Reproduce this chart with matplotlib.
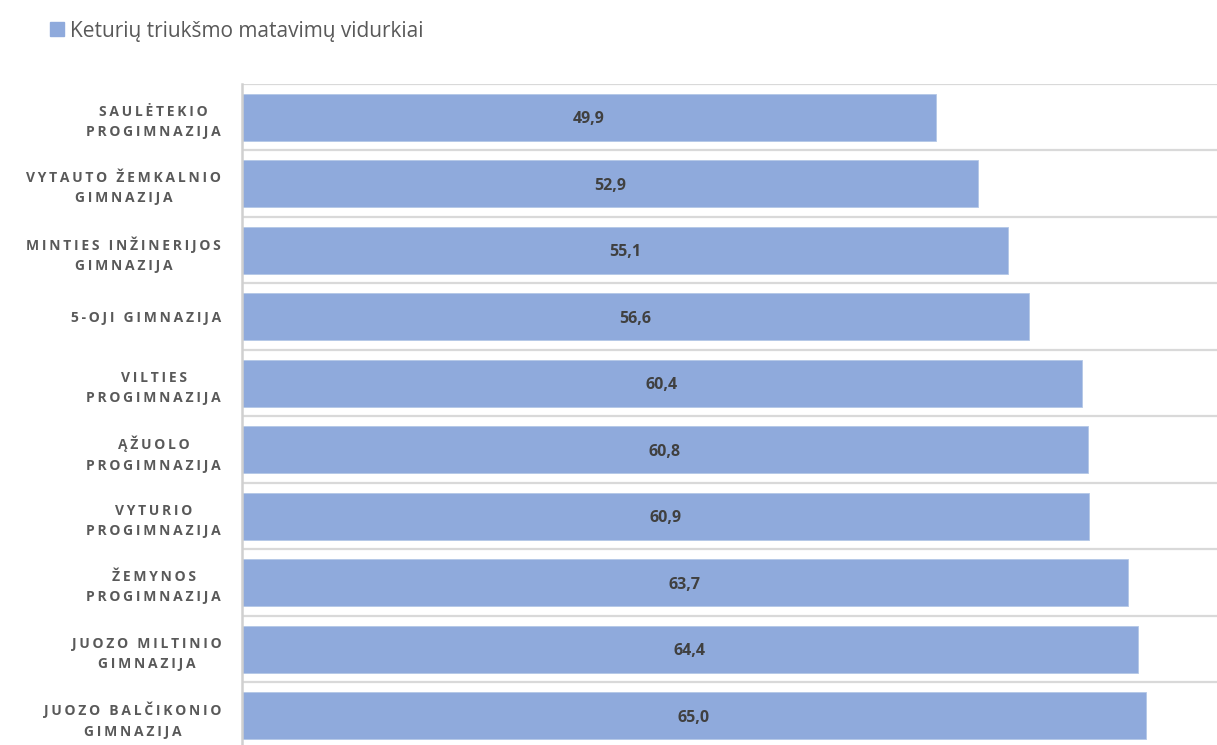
import matplotlib
matplotlib.use("Agg")
import matplotlib.pyplot as plt
import numpy as np

categories = [
    "SAULĖTEKIO\nPROGIMNAZIJA",
    "VYTAUTO ŽEMKALNIO\nGIMNAZIJA",
    "MINTIES INŽINERIJOS\nGIMNAZIJA",
    "5-OJI GIMNAZIJA",
    "VILTIES\nPROGIMNAZIJA",
    "ĄŽUOLO\nPROGIMNAZIJA",
    "VYTURIO\nPROGIMNAZIJA",
    "ŽEMYNOS\nPROGIMNAZIJA",
    "JUOZO MILTINIO\nGIMNAZIJA",
    "JUOZO BALČIKONIO\nGIMNAZIJA",
]
values = [49.9, 52.9, 55.1, 56.6, 60.4, 60.8, 60.9, 63.7, 64.4, 65.0]
series_name = "Keturių triukšmo matavimų vidurkiai"

BAR_COLOR = "#8faadc"
GRID_COLOR = "#d9d9d9"
LABEL_COLOR = "#595959"
VALUE_COLOR = "#404040"

THIN = "\u2009"


def spaced(label):
    lines = []
    for line in label.split("\n"):
        words = [THIN.join(list(w)) for w in line.split(" ")]
        lines.append((THIN + " " + THIN).join(words))
    return "\n".join(lines)


plt.rcParams["font.family"] = ["Open Sans", "DejaVu Sans"]

fig = plt.figure(figsize=(12.17, 7.45), dpi=100)
ax = fig.add_axes([242 / 1217, 1 - 749 / 745, 1 - 242 / 1217, (749 - 84) / 745])

y = np.arange(len(categories))
ax.barh(y, values, height=0.7, color=BAR_COLOR, edgecolor="#b4c7e7", linewidth=0.6, zorder=3)

ax.set_xlim(0, 70.1)
ax.set_ylim(len(categories) - 0.5, -0.5)

ax.set_yticks(y)
ax.set_yticklabels([spaced(c) for c in categories], fontsize=10, fontweight="bold",
                   color=LABEL_COLOR, multialignment="center", linespacing=1.55)
ax.tick_params(axis="y", length=0, pad=15)
ax.set_yticks(np.arange(-0.5, len(categories) + 0.5, 1), minor=True)
ax.tick_params(axis="y", which="minor", length=0)
ax.grid(axis="y", which="minor", color=GRID_COLOR, linewidth=1.6, zorder=0)
ax.set_xticks([])

for s in ["top", "right", "bottom"]:
    ax.spines[s].set_visible(False)
ax.spines["left"].set_color("#d0d0d0")
ax.spines["left"].set_linewidth(1.8)
ax.spines["left"].set_zorder(4)

for yi, v in zip(y, values):
    ax.text(v / 2, yi, f"{v:.1f}".replace(".", ","), ha="center", va="center_baseline",
            fontsize=11.5, fontweight="bold", color=VALUE_COLOR, zorder=5)

handle = plt.Rectangle((0, 0), 1, 1, color=BAR_COLOR)
fig.legend([handle], [series_name], loc="center left", bbox_to_anchor=(50 / 1217, 1 - 31 / 745),
           frameon=False, fontsize=15, handlelength=0.67, handleheight=0.67,
           handletextpad=0.28, borderpad=0, borderaxespad=0, labelcolor=LABEL_COLOR)

fig.savefig("out.png", dpi=100)
